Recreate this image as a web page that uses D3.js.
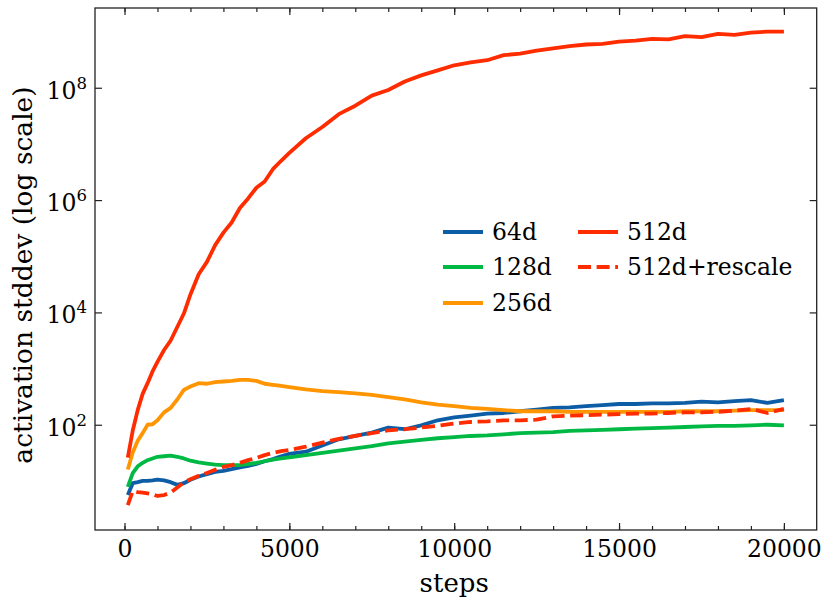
<!DOCTYPE html>
<html>
<head>
<meta charset="utf-8">
<script src="https://cdn.jsdelivr.net/npm/d3@7"></script>
<style>
  body { margin: 0; background: #fff; }
  svg text { font-family: "DejaVu Serif", serif; fill: #000; }
</style>
</head>
<body>
<svg width="830" height="606"></svg>
<script>
// training steps shared by every run
var steps = [100,250,400,550,700,850,1000,1200,1400,1600,1800,2000,
  2250,2500,2750,3000,3250,3500,3750,4000,4250,4500,4750,5000,
  5500,6000,6500,7000,7500,8000,8500,9000,9500,10000,10500,11000,11500,12000,
  12500,13000,13500,14000,14500,15000,15500,16000,16500,17000,17500,18000,
  18500,19000,19500,20000];

var std64 = [5.6,9.1,9.5,10,10,10.2,10.5,10.2,9.5,8.5,9.1,10.5,
  12,13.2,14.5,15.1,16.2,17.4,18.6,20,22.4,24.5,27.5,30.2,
  33.1,42.7,55,63.1,72.4,89.1,83.2,97.7,120,135,145,158,162,174,
  186,200,204,214,224,234,234,240,240,245,257,251,263,275,245,275];

var std128 = [7.8,13.8,18.2,20.9,23.4,25.1,26.9,27.5,28.2,26.9,25.1,22.9,
  21.4,20.4,19.5,19.1,19.1,19.1,20,20.9,22.4,24,25.1,26.3,
  28.8,31.6,34.7,38,41.7,46.8,50.1,53.7,57.5,60.3,63.1,64.6,67.6,70.8,
  72.4,74.1,77.6,79.4,81.3,83.2,85.1,87.1,89.1,91.2,93.3,95.5,95.5,97.7,100,97.7];

var std256 = [16,32,52,71,100,102,120,166,200,282,417,479,
  550,537,575,589,603,631,631,603,537,513,490,468,
  427,398,380,363,339,309,282,251,229,214,200,191,182,174,
  174,174,170,170,170,170,170,170,170,174,174,174,178,182,182,182];

var std512 = [26,79,182,355,550,891,1320,2140,3160,5500,9550,20900,
  47900,79400,158000,263000,398000,724000,1.07e6,1.66e6,2.14e6,3.55e6,5.01e6,6.92e6,
  1.26e7,2.0e7,3.39e7,4.79e7,7.24e7,9.12e7,1.29e8,1.66e8,2.04e8,2.51e8,2.82e8,3.09e8,3.80e8,4.07e8,
  4.57e8,5.01e8,5.50e8,5.89e8,6.03e8,6.61e8,6.92e8,7.41e8,7.24e8,8.32e8,7.94e8,9.12e8,8.71e8,9.55e8,1.0e9,1.0e9];

var std512rescale = [3.7,6.6,6.3,6.2,6.0,5.8,5.4,5.6,6.2,7.6,9.5,10.7,
  12.3,13.8,15.8,17.8,19.1,20.9,23.4,25.7,28.8,31.6,33.9,35.5,
  40.7,47.9,56.2,63.1,70.8,79.4,83.2,89.1,95.5,105,112,115,120,120,
  123,141,145,148,151,155,158,158,162,166,166,170,178,191,162,191];

var seriesNames = ['64d','128d','256d','512d','512d+rescale'];
var seriesValues = [std64, std128, std256, std512, std512rescale];
var seriesColors = ['#0C5DA5','#00B945','#FF9500','#FF2C00','#FF2C00'];
var seriesDash = [null, null, null, null, '13,5.6'];

var xTicks = [0,5000,10000,15000,20000];
var xMinor = d3.range(0, 20001, 1000);
var yTicks = [1e2,1e4,1e6,1e8];

var margin = {top:8, right:13.3, bottom:76, left:95},
    width = 830 - margin.left - margin.right,
    height = 606 - margin.top - margin.bottom;

var svg = d3.select('svg');
var g = svg.append('g').attr('transform','translate('+margin.left+','+margin.top+')');

var x = d3.scaleLinear().domain([-895, 20995]).range([0, width]);
var y = d3.scaleLog().domain([Math.pow(10,0.126), Math.pow(10,9.42)]).range([height, 0]);

// minor x ticks, bottom and top
g.append('g').attr('transform','translate(0,'+height+')')
  .call(d3.axisBottom(x).tickValues(xMinor).tickSize(-4).tickFormat(''))
  .call(a => a.select('.domain').remove());
g.append('g')
  .call(d3.axisTop(x).tickValues(xMinor).tickSize(-4).tickFormat(''))
  .call(a => a.select('.domain').remove());

// major x ticks
g.append('g').attr('class','xaxis').attr('transform','translate(0,'+height+')')
  .call(d3.axisBottom(x).tickValues(xTicks).tickSize(-7).tickPadding(10).tickFormat(d3.format('d')))
  .call(a => a.select('.domain').remove());
g.append('g')
  .call(d3.axisTop(x).tickValues(xTicks).tickSize(-7).tickFormat(''))
  .call(a => a.select('.domain').remove());

// y ticks
g.append('g').attr('class','yaxis')
  .call(d3.axisLeft(y).tickValues(yTicks).tickSize(-7).tickPadding(8))
  .call(a => a.select('.domain').remove());
g.append('g').attr('transform','translate('+width+',0)')
  .call(d3.axisRight(y).tickValues(yTicks).tickSize(-7).tickFormat(''))
  .call(a => a.select('.domain').remove());

g.selectAll('g').attr('font-family', null);
g.selectAll('.tick line').attr('stroke','#222').attr('stroke-width',1.2);
g.selectAll('.xaxis text').attr('font-size','23.5px');

g.selectAll('.yaxis .tick text')
  .attr('font-size','23.5px')
  .attr('dy','0.45em')
  .each(function(d){
    var t = d3.select(this).text(null);
    t.append('tspan').text('10');
    t.append('tspan').attr('dy','-0.62em').attr('font-size','16.5px').text(Math.round(Math.log10(d)));
  });

// frame
g.append('rect')
  .attr('width',width).attr('height',height)
  .attr('fill','none').attr('stroke','#222').attr('stroke-width',1.3);

var line = d3.line()
  .x((d,i) => x(steps[i]))
  .y(d => y(d));

g.selectAll('.run')
  .data(seriesValues)
  .join('path')
  .attr('class','run')
  .attr('d', d => line(d))
  .attr('fill','none')
  .attr('stroke',(d,i) => seriesColors[i])
  .attr('stroke-width',3.8)
  .attr('stroke-linejoin','round')
  .attr('stroke-dasharray',(d,i) => seriesDash[i]);

// axis labels
svg.append('text')
  .attr('x', margin.left + x(10000))
  .attr('y', 592)
  .attr('text-anchor','middle')
  .attr('font-size','26px')
  .text('steps');

svg.append('text')
  .attr('transform','translate(32,275) rotate(-90)')
  .attr('text-anchor','middle')
  .attr('font-size','26.5px')
  .text('activation stddev (log scale)');

// legend, two columns
var legendPos = [[443,232],[443,267],[443,303],[578,232],[578,267]];
var legend = svg.append('g');
seriesNames.forEach(function(name,i){
  var p = legendPos[i];
  legend.append('line')
    .attr('x1',p[0]).attr('x2',p[0]+40)
    .attr('y1',p[1]).attr('y2',p[1])
    .attr('stroke',seriesColors[i])
    .attr('stroke-width',3.8)
    .attr('stroke-dasharray',seriesDash[i]);
  legend.append('text')
    .attr('x',p[0]+49).attr('y',p[1])
    .attr('dy','0.36em')
    .attr('font-size','23.5px')
    .text(name);
});
</script>
</body>
</html>
